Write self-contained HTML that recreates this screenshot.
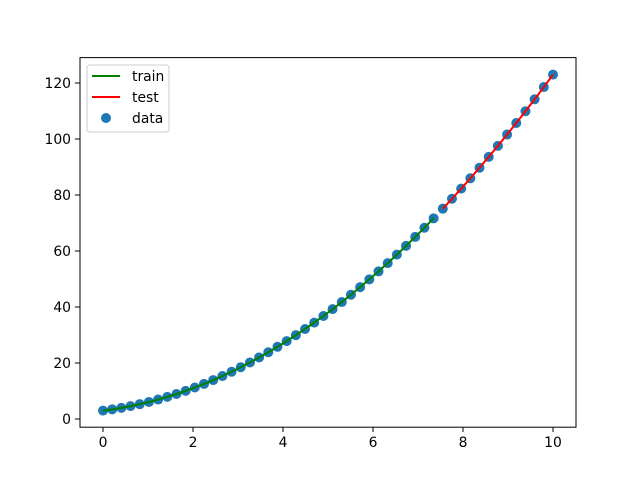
<!DOCTYPE html>
<html><head><meta charset="utf-8"><style>
html,body{margin:0;padding:0;background:#fff;}
svg text{font-family:"DejaVu Sans","Liberation Sans",sans-serif;font-size:13.9px;fill:#000;}
</style></head><body>
<svg id="s" width="640" height="480" xmlns="http://www.w3.org/2000/svg">
<rect width="640" height="480" fill="#fff"/>
<g id="plot"></g>
<rect x="80" y="57.6" width="496" height="369.6" fill="none" stroke="#000" stroke-width="1"/>
<g stroke="#000" stroke-width="1">
<line x1="103" y1="427.2" x2="103" y2="432"/>
<line x1="193" y1="427.2" x2="193" y2="432"/>
<line x1="283" y1="427.2" x2="283" y2="432"/>
<line x1="373" y1="427.2" x2="373" y2="432"/>
<line x1="463" y1="427.2" x2="463" y2="432"/>
<line x1="553" y1="427.2" x2="553" y2="432"/>
<line x1="75" y1="419" x2="80" y2="419"/>
<line x1="75" y1="363" x2="80" y2="363"/>
<line x1="75" y1="307" x2="80" y2="307"/>
<line x1="75" y1="251" x2="80" y2="251"/>
<line x1="75" y1="195" x2="80" y2="195"/>
<line x1="75" y1="139" x2="80" y2="139"/>
<line x1="75" y1="83" x2="80" y2="83"/>
</g>
<g text-anchor="middle">
<text x="103" y="447">0</text><text x="193" y="447">2</text><text x="283" y="447">4</text>
<text x="373" y="447">6</text><text x="463" y="447">8</text><text x="553" y="447">10</text>
</g>
<g text-anchor="end">
<text x="71" y="424">0</text><text x="71" y="368">20</text><text x="71" y="312">40</text>
<text x="71" y="256">60</text><text x="71" y="200">80</text><text x="71" y="144">100</text>
<text x="71" y="88">120</text>
</g>
<rect x="87" y="65" width="82" height="67" rx="3" fill="#fff" fill-opacity="0.8" stroke="#ccc"/>
<line x1="92" y1="76" x2="120" y2="76" stroke="green" stroke-width="2"/>
<line x1="92" y1="97" x2="120" y2="97" stroke="red" stroke-width="2"/>
<circle cx="106" cy="118" r="5" fill="#1f77b4"/>
<text x="132" y="81">train</text>
<text x="132" y="102">test</text>
<text x="132" y="123">data</text>
</svg>
<script>
var g=document.getElementById('plot'),ns='http://www.w3.org/2000/svg',h='',tr=[],te=[];
for(var i=0;i<50;i++){var x=10*i/49,y=x*x+2*x+3;var px=103+45*x,py=419-2.8*y;
h+='<circle cx="'+px.toFixed(2)+'" cy="'+py.toFixed(2)+'" r="5" fill="#1f77b4"/>';
(i<37?tr:te).push(px.toFixed(2)+','+py.toFixed(2));}
h+='<polyline points="'+tr.join(' ')+'" fill="none" stroke="green" stroke-width="2"/>';
h+='<polyline points="'+te.join(' ')+'" fill="none" stroke="red" stroke-width="2"/>';
g.innerHTML=h;
</script>
</body></html>
